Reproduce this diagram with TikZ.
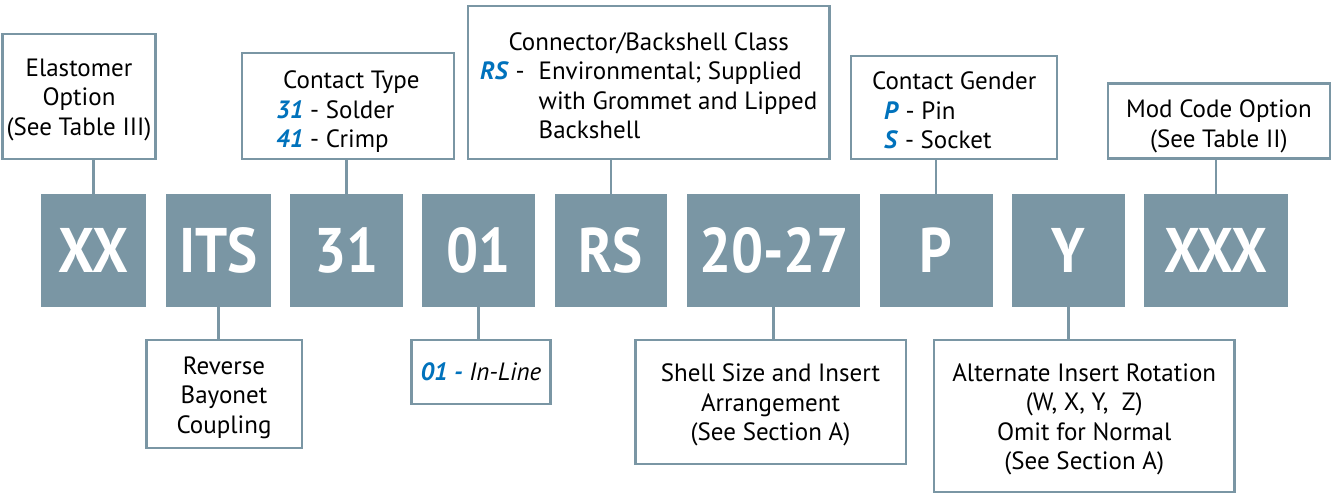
\documentclass[tikz,border=0pt]{standalone}
\usepackage{fontspec}
\setmainfont{PT Sans}
\newfontfamily\codefont[FakeStretch=0.9]{PT Sans}
\usepackage{xcolor}
\usepackage{tikz}
\definecolor{boxgray}{RGB}{122,150,164}
\definecolor{codeblue}{RGB}{0,114,188}
\newcommand{\pn}[1]{\textcolor{codeblue}{\textbf{\textit{#1}}}}
\newcommand{\drop}[1]{\rule{0pt}{#1}}
\begin{document}
\begin{tikzpicture}[x=1pt,y=-1pt,
    infobox/.style={draw=boxgray,line width=2.5pt,fill=white,inner sep=0pt,align=center,font=\fontsize{25}{29.5}\selectfont},
    codebox/.style={fill=boxgray,inner sep=0pt,minimum height=113pt,text=white,font=\codefont\fontsize{63}{63}\selectfont\bfseries},
    conn/.style={draw=boxgray,line width=2.5pt}]
      \useasboundingbox (0,0) rectangle (1333,495);
      \foreach \n/\l/\r/\t in {xx/40.6/146/XX,its/165.6/271/ITS,ct/290/403/31,ln/422/535/01,rs/554.5/667.4/RS,
          sz/687/860.4/20-27,pin/879.5/992.8/P,rot/1012/1124.7/Y,mod/1144/1287.6/XXX}
        \node[codebox,minimum width={\r-\l}] (\n) at ({(\l+\r)/2},250.5) {\t};
      \node[infobox,minimum width=153,minimum height=125] (elast) at (79,96.5) {\drop{24pt}Elastomer\\Option\\(See Table III)};
      \node[infobox,minimum width=212,minimum height=106,align=left] (ctype) at (347.9,105.9) {\drop{30pt}\hspace*{7pt}Contact Type\\\pn{31} - Solder\\\pn{41} - Crimp};
      \node[infobox,minimum width=361.5,minimum height=152.5] (class) at (648.7,82.5)
        {\drop{33pt}\begin{tabular}[t]{@{}l@{\hspace{14pt}}l@{}}\multicolumn{2}{c}{Connector/Backshell Class}\\
          \pn{RS} - & Environmental; Supplied\\ & with Grommet and Lipped\\ & Backshell\end{tabular}};
      \node[infobox,minimum width=206,minimum height=103,align=left] (gender) at (954.2,107.4) {\drop{24pt}Contact Gender\\\hspace*{12pt}\pn{P} - Pin\\\hspace*{12pt}\pn{S} - Socket};
      \node[infobox,minimum width=222,minimum height=75] (modopt) at (1218.9,121.2) {\drop{28pt}Mod Code Option\\(See Table II)};
      \node[infobox,minimum width=155.5,minimum height=108] (coupling) at (224,394.2) {\drop{24pt}Reverse\\Bayonet\\Coupling};
      \node[infobox,minimum width=139,minimum height=64] (inline) at (480.9,372) {\pn{01 -} \textit{In-Line}};
      \node[infobox,minimum width=270.5,minimum height=124] (shell) at (770.5,402.1) {\drop{24pt}Shell Size and Insert\\Arrangement\\(See Section A)};
      \node[infobox,minimum width=300.5,minimum height=152] (altrot) at (1084.2,416) {\drop{24pt}Alternate Insert Rotation\\(W, X, Y,\ \ Z)\\Omit for Normal\\(See Section A)};
      \foreach \c/\b in {xx/elast,ct/ctype,rs/class,pin/gender,mod/modopt}
        \draw[conn] (\c.north) -- (\c.north |- \b.south);
      \foreach \c/\b in {its/coupling,ln/inline,sz/shell,rot/altrot}
        \draw[conn] (\c.south) -- (\c.south |- \b.north);
    \end{tikzpicture}
\end{document}
